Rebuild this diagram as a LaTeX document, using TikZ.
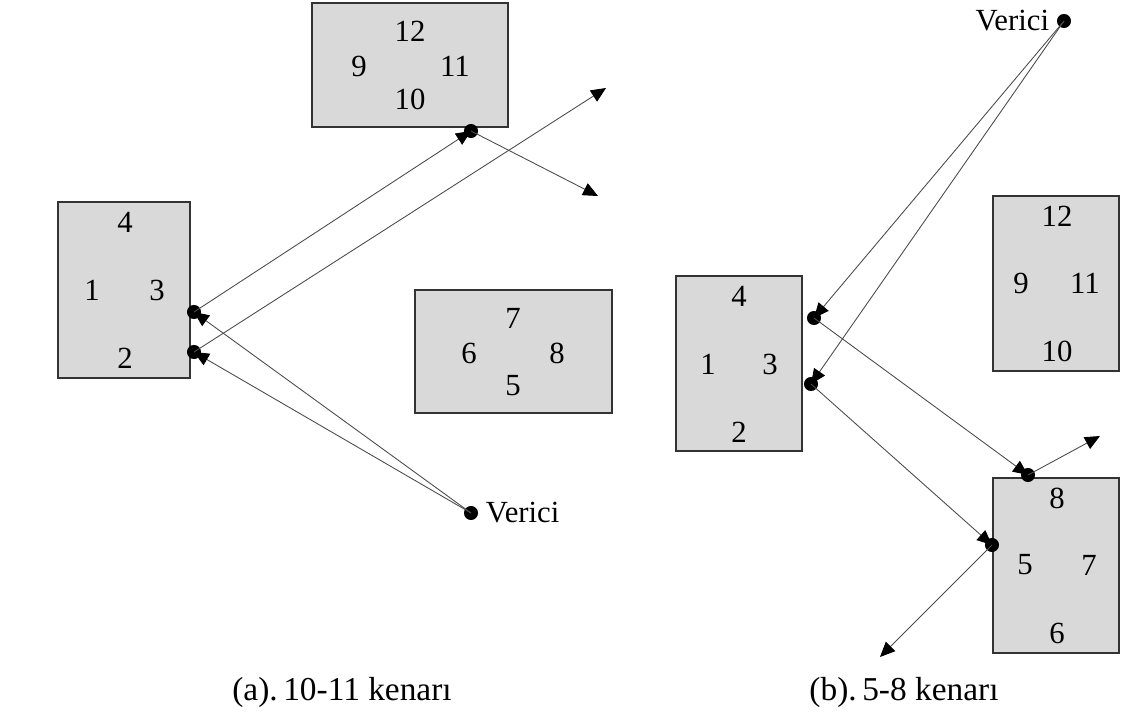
\documentclass[tikz,border=0pt]{standalone}
\usepackage{fontspec}
\setmainfont{Liberation Serif}
\usetikzlibrary{arrows.meta, positioning}

\begin{document}
\begin{tikzpicture}[x=0.02cm, y=-0.02cm,
   font=\fontsize{17.5}{20}\selectfont,
   -{Triangle[length=8.5pt, width=7.5pt, color=black]}, draw=black!70, line width=0.5pt,
   box/.style = {draw=black!80, fill=black!15, line width=0.6pt, inner sep=0pt},
   dot/.style = {circle, fill=black, inner sep=0pt, minimum size=8pt},
   lbl/.style = {inner sep=0pt}]
   \useasboundingbox (0,0) rectangle (1123,720);

   % (a)
   \node[box, minimum width=2.64cm, minimum height=3.52cm] (a1) at (124,290) {};
   \node[box, minimum width=3.92cm, minimum height=2.48cm] (a9) at (410,65) {};
   \node[box, minimum width=3.94cm, minimum height=2.46cm] (a5) at (513.5,351.5) {};

   \node[lbl] (a1n4) at (125,222) {4};
   \node[lbl] (a1n1) at (92,290) {1};
   \node[lbl] (a1n3) at (157,290) {3};
   \node[lbl] (a1n2) at (125,358) {2};

   \node[lbl] (a9n12) at (410,31) {12};
   \node[lbl] (a9n9)  at (359,66) {9};
   \node[lbl] (a9n11) at (455,66) {11};
   \node[lbl] (a9n10) at (410,99) {10};

   \node[lbl] (a5n7) at (513,318) {7};
   \node[lbl] (a5n6) at (469,353) {6};
   \node[lbl] (a5n8) at (557,353) {8};
   \node[lbl] (a5n5) at (513,386) {5};

   \node[dot] (av) at (471,513) {};
   \node[lbl, right=4pt of av] (avt) {Verici};
   \node[dot] (ap1) at (194,312) {};
   \node[dot] (ap2) at (194,352) {};
   \node[dot] (ap3) at (471,131) {};
   \coordinate (ae1) at (606,88);
   \coordinate (ae2) at (598,196);

   \draw (av.center) -- (ap1.center);
   \draw (av.center) -- (ap2.center);
   \draw (ap1.center) -- (ap3.center);
   \draw (ap2.center) -- (ae1);
   \draw (ap3.center) -- (ae2);

   % (b)
   \node[box, minimum width=2.52cm, minimum height=3.5cm] (b1) at (739,363.5) {};
   \node[box, minimum width=2.52cm, minimum height=3.5cm] (b9) at (1056,283.5) {};
   \node[box, minimum width=2.52cm, minimum height=3.5cm] (b5) at (1056,565.5) {};

   \node[lbl] (b1n4) at (739,296) {4};
   \node[lbl] (b1n1) at (708,364) {1};
   \node[lbl] (b1n3) at (770,364) {3};
   \node[lbl] (b1n2) at (739,432) {2};

   \node[lbl] (b9n12) at (1057,216) {12};
   \node[lbl] (b9n9)  at (1021,283) {9};
   \node[lbl] (b9n11) at (1085,283) {11};
   \node[lbl] (b9n10) at (1057,351) {10};

   \node[lbl] (b5n8) at (1057,498) {8};
   \node[lbl] (b5n5) at (1025,565) {5};
   \node[lbl] (b5n7) at (1089,565) {7};
   \node[lbl] (b5n6) at (1057,633) {6};

   \node[dot] (bv) at (1064,21) {};
   \node[lbl, left=4pt of bv] (bvt) {Verici};
   \node[dot] (bp1) at (814,318) {};
   \node[dot] (bp2) at (811,384) {};
   \node[dot] (bp3) at (1028,475) {};
   \node[dot] (bp4) at (992,545) {};
   \coordinate (be1) at (1100,436);
   \coordinate (be2) at (880,657);

   \draw (bv.center) -- (bp1.center);
   \draw (bv.center) -- (bp2.center);
   \draw (bp1.center) -- (bp3.center);
   \draw (bp2.center) -- (bp4.center);
   \draw (bp3.center) -- (be1);
   \draw (bp4.center) -- (be2);

   % captions
   \node[lbl, font=\fontsize{19}{22}\selectfont] (capa) at (342,692) {(a).\,10-11 kenarı};
   \node[lbl, font=\fontsize{19}{22}\selectfont] (capb) at (904,692) {(b).\,5-8 kenarı};
\end{tikzpicture}
\end{document}
